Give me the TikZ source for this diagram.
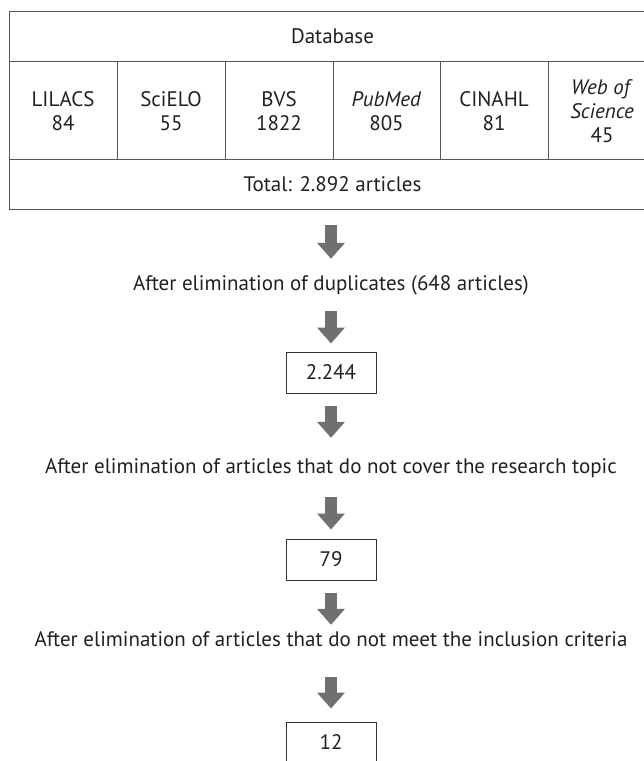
\documentclass[tikz,border=0pt]{standalone}
\usepackage{fontspec}
\setmainfont{PT Sans}
\usetikzlibrary{arrows.meta}
\definecolor{arrowgray}{RGB}{112,112,112}
\definecolor{rulegray}{RGB}{85,85,85}
\definecolor{textgray}{RGB}{35,31,32}
\tikzset{
  cell/.style={align=center, inner sep=0pt, text=textgray},
  stage/.style={inner sep=0pt, text height=15pt, text depth=4pt, text=textgray},
  countbox/.style={draw=black!80, line width=1pt, minimum width=90pt, minimum height=41pt, inner sep=0pt, text=textgray},
  flowarrow/.style={draw=arrowgray, line width=12pt, -{Triangle[width=27pt,length=16pt]}},
  tablerule/.style={draw=rulegray, line width=1pt}
}
\begin{document}
\begin{tikzpicture}[x=1pt,y=-1pt,font=\fontsize{21}{24}\selectfont]
    \path[use as bounding box, clip] (0,0) rectangle (644,761);
    % table of databases
    \draw[tablerule] (9,11) rectangle (656,209);
    \draw[tablerule] (9,61) -- (656,61);
    \draw[tablerule] (9,159) -- (656,159);
    \foreach \x in {117,225,333,440,548}
        \draw[tablerule] (\x,61) -- (\x,159);
    \node[cell] (db) at (332.5,36) {Database};
    \node[cell] (lilacs) at (63,111) {LILACS\\84};
    \node[cell] (scielo) at (171,111) {SciELO\\55};
    \node[cell] (bvs) at (279,111) {BVS\\1822};
    \node[cell] (pubmed) at (386.5,111) {\textit{PubMed}\\805};
    \node[cell] (cinahl) at (494,111) {CINAHL\\81};
    \node[cell] (wos) at (602,111) {\textit{Web of}\\\textit{Science}\\45};
    \node[cell] (total) at (332.5,184) {Total: 2.892 articles};
    \coordinate (tabbottom) at (331,209);
    % stages
    \node[stage] (dup) at (331,284.5) {After elimination of duplicates (648 articles)};
    \node[countbox] (n1) at (331,372.5) {2.244};
    \node[stage] (topic) at (331,468) {After elimination of articles that do not cover the research topic};
    \node[countbox] (n2) at (331,559.5) {79};
    \node[stage] (incl) at (331,641) {After elimination of articles that do not meet the inclusion criteria};
    \node[countbox] (n3) at (331,742.5) {12};
    % arrows
    \draw[flowarrow, shorten <=16pt, shorten >=16pt] (tabbottom) -- (dup.north);
    \draw[flowarrow, shorten <=17pt, shorten >=8pt] (dup.south) -- (n1.north);
    \draw[flowarrow, shorten <=12pt, shorten >=20.5pt] (n1.south) -- (topic.north);
    \draw[flowarrow, shorten <=19.5pt, shorten >=9pt] (topic.south) -- (n2.north);
    \draw[flowarrow, shorten <=12pt, shorten >=6.5pt] (n2.south) -- (incl.north);
    \draw[flowarrow, shorten <=26.5pt, shorten >=13pt] (incl.south) -- (n3.north);
\end{tikzpicture}
\end{document}
